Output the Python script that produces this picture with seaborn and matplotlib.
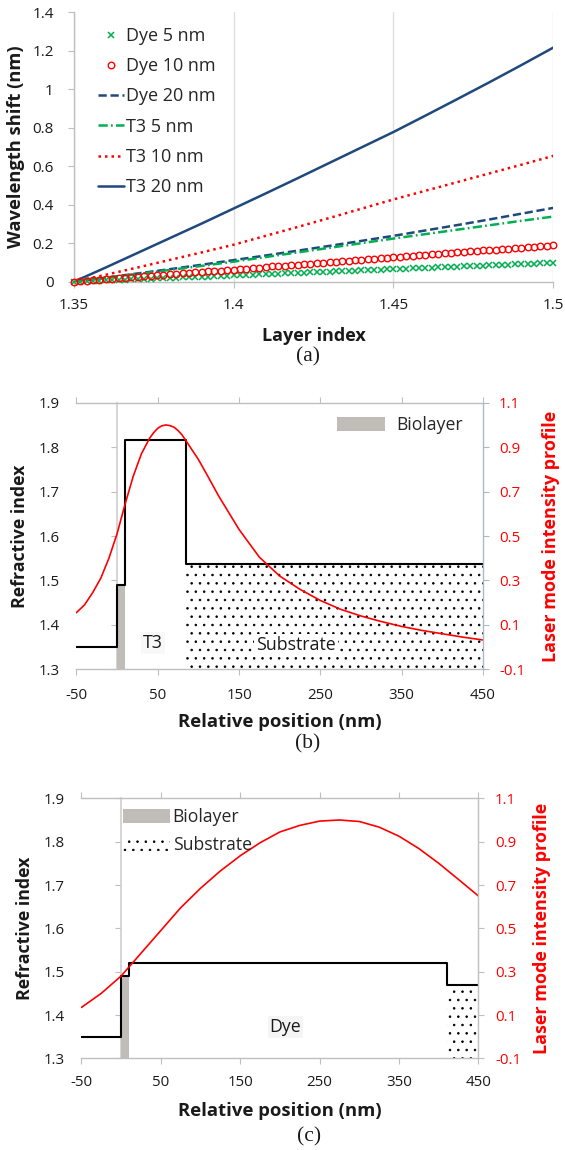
import matplotlib
matplotlib.use("Agg")
import matplotlib.pyplot as plt
from matplotlib.patches import Patch
from matplotlib.ticker import FuncFormatter
import seaborn as sns

# ---------------- Panel (a) data ----------------
layer_index = [1.35, 1.36, 1.37, 1.38, 1.39, 1.40, 1.41, 1.42, 1.43, 1.44,
               1.45, 1.46, 1.47, 1.48, 1.49, 1.50]
dye_20nm = [0, 0.021, 0.043, 0.065, 0.088, 0.112, 0.136, 0.161, 0.186, 0.212,
            0.238, 0.266, 0.294, 0.323, 0.353, 0.383]
t3_5nm = [0, 0.020, 0.040, 0.061, 0.082, 0.104, 0.128, 0.152, 0.176, 0.200,
          0.224, 0.247, 0.270, 0.293, 0.316, 0.338]
t3_10nm = [0, 0.036, 0.074, 0.113, 0.152, 0.192, 0.238, 0.284, 0.331, 0.379,
           0.427, 0.472, 0.517, 0.562, 0.607, 0.653]
t3_20nm = [0, 0.074, 0.150, 0.226, 0.302, 0.380, 0.458, 0.537, 0.617, 0.697,
           0.777, 0.862, 0.948, 1.035, 1.124, 1.215]

layer_index_fine = [1.350, 1.352, 1.354, 1.356, 1.358, 1.360, 1.362, 1.364, 1.366, 1.368,
                    1.370, 1.372, 1.374, 1.376, 1.378, 1.380, 1.382, 1.384, 1.386, 1.388,
                    1.390, 1.392, 1.394, 1.396, 1.398, 1.400, 1.402, 1.404, 1.406, 1.408,
                    1.410, 1.412, 1.414, 1.416, 1.418, 1.420, 1.422, 1.424, 1.426, 1.428,
                    1.430, 1.432, 1.434, 1.436, 1.438, 1.440, 1.442, 1.444, 1.446, 1.448,
                    1.450, 1.452, 1.454, 1.456, 1.458, 1.460, 1.462, 1.464, 1.466, 1.468,
                    1.470, 1.472, 1.474, 1.476, 1.478, 1.480, 1.482, 1.484, 1.486, 1.488,
                    1.490, 1.492, 1.494, 1.496, 1.498, 1.500]
dye_5nm = [0, .001, .003, .004, .005, .007, .008, .009, .010, .012,
           .013, .014, .016, .017, .018, .020, .021, .022, .023, .025,
           .026, .027, .029, .030, .031, .033, .034, .035, .036, .038,
           .039, .040, .042, .043, .044, .046, .047, .048, .049, .051,
           .052, .053, .055, .056, .057, .059, .060, .061, .062, .064,
           .065, .066, .068, .069, .070, .072, .073, .074, .075, .077,
           .078, .079, .081, .082, .083, .085, .086, .087, .088, .090,
           .091, .092, .094, .095, .096, .0975]
dye_10nm = [0, .003, .005, .008, .010, .013, .015, .018, .020, .023,
            .025, .028, .030, .033, .035, .038, .041, .043, .046, .048,
            .051, .053, .056, .058, .061, .063, .066, .068, .071, .073,
            .076, .079, .081, .084, .086, .089, .091, .094, .096, .099,
            .101, .104, .106, .109, .111, .114, .117, .119, .122, .124,
            .127, .129, .132, .134, .137, .139, .142, .144, .147, .149,
            .152, .155, .157, .160, .162, .165, .167, .170, .172, .175,
            .177, .180, .182, .185, .187, .190]
series_labels = ["Dye 5 nm", "Dye 10 nm", "Dye 20 nm", "T3 5 nm", "T3 10 nm", "T3 20 nm"]
a_xticks = [1.35, 1.4, 1.45, 1.5]
a_yticks = [0, 0.2, 0.4, 0.6, 0.8, 1.0, 1.2, 1.4]

# ---------------- Panel (b) data ----------------
b_edges = [-50, 0, 10, 85, 450]
b_index = [1.35, 1.49, 1.815, 1.537, 1.537]
biolayer_span = [0, 10]
biolayer_index = 1.49
b_substrate_span = [85, 450]
b_substrate_index = 1.537
b_position = [-50, -40, -30, -20, -10, 0, 10, 20, 30, 40, 45, 50, 55, 60, 65, 70, 75, 80,
              90, 100, 110, 125, 150, 175, 200, 225, 250, 275, 300, 325, 350, 375, 400,
              425, 450]
b_intensity = [0.155, 0.19, 0.245, 0.31, 0.40, 0.51, 0.645, 0.77, 0.87, 0.94, 0.965,
               0.985, 0.996, 1.0, 0.997, 0.99, 0.975, 0.955, 0.90, 0.845, 0.78, 0.68,
               0.53, 0.405, 0.32, 0.26, 0.21, 0.17, 0.14, 0.115, 0.093, 0.075, 0.06,
               0.045, 0.032]

# ---------------- Panel (c) data ----------------
c_edges = [-50, 0, 10, 410, 450]
c_index = [1.35, 1.49, 1.52, 1.47, 1.47]
c_substrate_span = [410, 450]
c_substrate_index = 1.47
c_position = [-50, -25, 0, 25, 50, 75, 100, 125, 150, 175, 200, 225, 250, 275,
              300, 325, 350, 375, 400, 425, 450]
c_intensity = [0.135, 0.20, 0.28, 0.385, 0.49, 0.595, 0.685, 0.765, 0.835, 0.895,
               0.945, 0.975, 0.995, 1.0, 0.993, 0.967, 0.925, 0.868, 0.80, 0.725, 0.649]

pos_xticks = [-50, 50, 150, 250, 350, 450]
ri_yticks = [1.3, 1.4, 1.5, 1.6, 1.7, 1.8, 1.9]
int_yticks = [-0.1, 0.1, 0.3, 0.5, 0.7, 0.9, 1.1]

# ---------------- style ----------------
sns.set_theme(style="white")
plt.rcParams['font.family'] = ['Open Sans', 'DejaVu Sans']
plt.rcParams['axes.unicode_minus'] = False
plt.rcParams['hatch.linewidth'] = 0.6

BLUE = '#1f497d'
GREEN = '#00b050'
RED = '#ff0000'
BIO = '#c0bcb8'
SPINE = '#bfbfbf'
GRID = '#e0e0e0'
TXT = '#1a1a1a'
gfmt = FuncFormatter(lambda v, p: f'{v:g}')

fig = plt.figure(figsize=(5.65, 11.5), dpi=100)

# ================= Panel (a) =================
axA = fig.add_axes([0.1308, 0.75504, 0.8483, 0.23452])
sns.lineplot(x=layer_index_fine, y=dye_5nm, ax=axA, linestyle='', marker='x',
             markersize=3.9, markeredgewidth=1.1, markeredgecolor=GREEN, color=GREEN,
             clip_on=False, zorder=3)
sns.lineplot(x=layer_index_fine, y=dye_10nm, ax=axA, linestyle='', marker='o',
             markersize=4.7, markeredgewidth=1.0, markeredgecolor=RED,
             markerfacecolor='none', color=RED, clip_on=False, zorder=3)
sns.lineplot(x=layer_index, y=dye_20nm, ax=axA, color=BLUE, lw=1.8,
             linestyle=(0, (3.3, 1.5)))
sns.lineplot(x=layer_index, y=t3_5nm, ax=axA, color=GREEN, lw=1.8,
             linestyle=(0, (3.7, 1.3, 0.7, 1.3)))
sns.lineplot(x=layer_index, y=t3_10nm, ax=axA, color=RED, lw=1.8,
             linestyle=(0, (1, 1.6)))
sns.lineplot(x=layer_index, y=t3_20nm, ax=axA, color=BLUE, lw=1.8)

axA.set_xlim(a_xticks[0], a_xticks[-1])
axA.set_ylim(a_yticks[0], a_yticks[-1])
axA.set_xticks(a_xticks)
axA.set_yticks(a_yticks)
axA.xaxis.set_major_formatter(gfmt)
axA.yaxis.set_major_formatter(gfmt)
axA.grid(axis='x', color=GRID, lw=1.0)
axA.grid(axis='y', visible=False)
for s in ['top', 'right']:
    axA.spines[s].set_visible(False)
for s in ['left', 'bottom']:
    axA.spines[s].set_color(SPINE)
    axA.spines[s].set_linewidth(1.0)
axA.tick_params(axis='both', direction='out', length=4, width=0.8, color=SPINE,
                labelsize=11, labelcolor=TXT)
axA.tick_params(axis='y', left=True, pad=10.5)
axA.tick_params(axis='x', bottom=True, pad=7.5)
axA.set_xlabel('Layer index', fontsize=13, fontweight='bold', color=TXT)
axA.set_ylabel('Wavelength shift (nm)', fontsize=13.2, fontweight='bold', color=TXT)
axA.xaxis.set_label_coords(0.5, -0.168)
axA.yaxis.set_label_coords(-0.102, 0.5)
handles = axA.get_lines()[:6]
axA.legend(handles, series_labels, loc='upper left', bbox_to_anchor=(0.0503, 0.945),
           frameon=False, fontsize=13, handlelength=1.46, handletextpad=0.07,
           labelspacing=0.68, borderaxespad=0, borderpad=0, numpoints=1)
fig.text(308 / 565, 1 - 357 / 1150, '(a)', ha='center', va='center',
         family='Liberation Serif', fontsize=15.5, color=TXT)


def profile_panel(rect, edges, index, substrate_span, substrate_index,
                  position, intensity, label_xy, label_text, label_bg,
                  ylab_x, rlab_x, xlab_y, left_pad, bottom_pad, right_pad, rspine_color):
    ax = fig.add_axes(rect)
    ax.fill_between(biolayer_span, ri_yticks[0], biolayer_index, color=BIO, lw=0, zorder=1)
    ax.fill_between(substrate_span, ri_yticks[0], substrate_index, facecolor='none',
                    edgecolor='black', hatch='..', lw=0, zorder=0.5)
    sns.lineplot(x=edges, y=index, ax=ax, color='black', lw=1.5, drawstyle='steps-post',
                 zorder=3)
    ax.set_xlim(pos_xticks[0], pos_xticks[-1])
    ax.set_ylim(ri_yticks[0], ri_yticks[-1])
    ax.set_xticks(pos_xticks)
    ax.set_yticks(ri_yticks)
    ax.xaxis.set_major_formatter(gfmt)
    ax.yaxis.set_major_formatter(gfmt)
    ax.grid(False)
    ax.spines['right'].set_visible(False)
    ax.spines['left'].set_position(('data', 0))
    ax.spines['left'].set_color('#d0d0d0')
    ax.spines['left'].set_zorder(0.8)
    for s in ['top', 'bottom']:
        ax.spines[s].set_color(SPINE)
        ax.spines[s].set_linewidth(1.0)
    ax.tick_params(axis='both', direction='out', length=4, width=0.8, color=SPINE,
                   labelsize=10.8, labelcolor=TXT)
    ax.tick_params(axis='x', bottom=True, top=True, labeltop=False, pad=bottom_pad)
    ax.tick_params(axis='y', left=True, pad=left_pad)
    ax.set_xlabel('Relative position (nm)', fontsize=13.3, fontweight='bold', color=TXT)
    ax.set_ylabel('Refractive index', fontsize=12.8, fontweight='bold', color=TXT)
    ax.xaxis.set_label_coords(0.5, xlab_y)
    ax.yaxis.set_label_coords(ylab_x, 0.5)
    ax.text(label_xy[0], label_xy[1], label_text, ha='center', va='center', fontsize=12.8,
            color=TXT, zorder=4, bbox=dict(facecolor=label_bg, edgecolor='none', pad=1.5))

    ax2 = ax.twinx()
    sns.lineplot(x=position, y=intensity, ax=ax2, color=RED, lw=1.2)
    ax2.set_ylim(int_yticks[0], int_yticks[-1])
    ax2.set_yticks(int_yticks)
    ax2.yaxis.set_major_formatter(gfmt)
    ax2.grid(False)
    for s in ['top', 'bottom', 'left']:
        ax2.spines[s].set_visible(False)
    ax2.spines['right'].set_color(rspine_color)
    ax2.spines['right'].set_linewidth(1.0)
    ax2.tick_params(axis='y', right=True, direction='out', length=4, width=0.8,
                    color=rspine_color, labelsize=10.8, labelcolor=RED, pad=right_pad)
    ax2.set_ylabel('Laser mode intensity profile', fontsize=13, fontweight='bold',
                   color=RED)
    ax2.yaxis.set_label_coords(rlab_x, 0.5)
    return ax, ax2


# ================= Panel (b) =================
axB, axB2 = profile_panel([0.1352, 0.418, 0.7195, 0.2318], b_edges, b_index,
                          b_substrate_span, b_substrate_index, b_position, b_intensity,
                          (44, 1.3585), 'T3', '#f8f8f8', -0.117, 1.1446, -0.165,
                          37, 9.5, 7.5, '#a9b8cc')
axB.text(220, 1.3547, 'Substrate', ha='center', va='center', fontsize=12.8, color=TXT,
         zorder=4, bbox=dict(facecolor='white', edgecolor='none', pad=1.5))
axB2.legend([Patch(facecolor=BIO, edgecolor='none')], ['Biolayer'], loc='upper left',
            bbox_to_anchor=(0.641, 0.95), frameon=False, fontsize=12.7,
            handlelength=2.75, handleheight=0.88, handletextpad=0.6,
            borderaxespad=0, borderpad=0)
fig.text(308 / 565, 1 - 744 / 1150, '(b)', ha='center', va='center',
         family='Liberation Serif', fontsize=15.5, color=TXT)

# ================= Panel (c) =================
axC, axC2 = profile_panel([0.1441, 0.0797, 0.7028, 0.2261], c_edges, c_index,
                          c_substrate_span, c_substrate_index, c_position, c_intensity,
                          (207, 1.372), 'Dye', '#f5f5f5', -0.119, 1.1362, -0.167,
                          36.5, 8.2, 7.8, '#c0c0c0')
axC2.legend([Patch(facecolor=BIO, edgecolor='none'),
             Patch(facecolor='none', edgecolor='black', hatch='..', lw=0)],
            ['Biolayer', 'Substrate'], loc='upper left',
            bbox_to_anchor=(0.104, 0.963), frameon=False, fontsize=12.7,
            handlelength=2.68, handleheight=0.85, handletextpad=0.15,
            labelspacing=0.55, borderaxespad=0, borderpad=0)
fig.text(309 / 565, 1 - 1136.7 / 1150, '(c)', ha='center', va='center',
         family='Liberation Serif', fontsize=15.5, color=TXT)

fig.savefig('out.png', dpi=100)
